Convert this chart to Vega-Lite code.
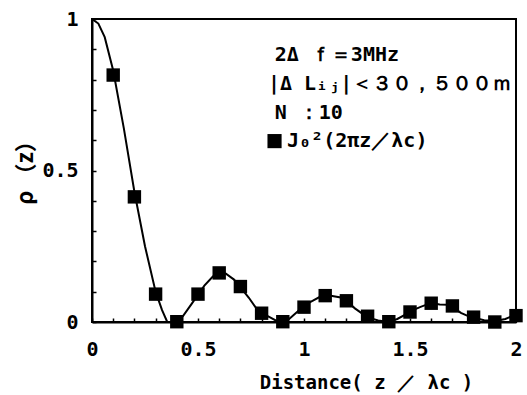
{
  "$schema": "https://vega.github.io/schema/vega-lite/v6.json",
  "width": 424,
  "height": 303,
  "autosize": "none",
  "padding": {"left": 92, "top": 19, "right": 11, "bottom": 73},
  "background": "white",
  "config": {
    "view": {"stroke": "black", "strokeWidth": 2},
    "font": "DejaVu Sans Mono",
    "axis": {"grid": false, "domainColor": "black", "domainWidth": 2, "tickColor": "black", "tickWidth": 1.5, "labelColor": "black", "titleColor": "black", "labelFont": "DejaVu Sans Mono", "titleFont": "DejaVu Sans Mono", "labelFontSize": 20, "labelFontWeight": "bold", "titleFontSize": 19, "titleFontWeight": "bold"}
  },
  "resolve": {"axis": {"x": "independent", "y": "independent"}},
  "datasets": {
    "curve": [
      {"z": 0.0, "rho": 1.0}, {"z": 0.03, "rho": 0.985}, {"z": 0.06, "rho": 0.94}, {"z": 0.1, "rho": 0.83},
      {"z": 0.15, "rho": 0.64}, {"z": 0.2, "rho": 0.43}, {"z": 0.25, "rho": 0.25}, {"z": 0.3, "rho": 0.1},
      {"z": 0.33, "rho": 0.04}, {"z": 0.355, "rho": 0.0}, {"z": 0.4, "rho": 0.0}, {"z": 0.43, "rho": 0.02},
      {"z": 0.47, "rho": 0.06}, {"z": 0.5, "rho": 0.09}, {"z": 0.53, "rho": 0.12}, {"z": 0.57, "rho": 0.15},
      {"z": 0.6, "rho": 0.165}, {"z": 0.63, "rho": 0.16}, {"z": 0.67, "rho": 0.14}, {"z": 0.7, "rho": 0.115},
      {"z": 0.74, "rho": 0.08}, {"z": 0.77, "rho": 0.05}, {"z": 0.8, "rho": 0.03}, {"z": 0.84, "rho": 0.015},
      {"z": 0.88, "rho": 0.0}, {"z": 0.9, "rho": -0.003}, {"z": 0.93, "rho": 0.01}, {"z": 0.97, "rho": 0.035},
      {"z": 1.0, "rho": 0.055}, {"z": 1.04, "rho": 0.07}, {"z": 1.08, "rho": 0.085}, {"z": 1.1, "rho": 0.09},
      {"z": 1.14, "rho": 0.085}, {"z": 1.18, "rho": 0.08}, {"z": 1.2, "rho": 0.07}, {"z": 1.24, "rho": 0.045},
      {"z": 1.28, "rho": 0.025}, {"z": 1.3, "rho": 0.015}, {"z": 1.35, "rho": 0.005}, {"z": 1.4, "rho": 0.0},
      {"z": 1.44, "rho": 0.01}, {"z": 1.48, "rho": 0.025}, {"z": 1.5, "rho": 0.035}, {"z": 1.55, "rho": 0.05},
      {"z": 1.6, "rho": 0.063}, {"z": 1.64, "rho": 0.058}, {"z": 1.68, "rho": 0.057}, {"z": 1.7, "rho": 0.05},
      {"z": 1.74, "rho": 0.03}, {"z": 1.78, "rho": 0.018}, {"z": 1.8, "rho": 0.014}, {"z": 1.85, "rho": 0.006},
      {"z": 1.9, "rho": 0.003}, {"z": 1.95, "rho": 0.01}, {"z": 2.0, "rho": 0.025}
    ],
    "markers": [
      {"z": 0.1, "rho": 0.815}, {"z": 0.2, "rho": 0.413}, {"z": 0.3, "rho": 0.092}, {"z": 0.4, "rho": 0.001},
      {"z": 0.5, "rho": 0.092}, {"z": 0.6, "rho": 0.162}, {"z": 0.7, "rho": 0.117}, {"z": 0.8, "rho": 0.029},
      {"z": 0.9, "rho": 0.001}, {"z": 1.0, "rho": 0.049}, {"z": 1.1, "rho": 0.087}, {"z": 1.2, "rho": 0.07},
      {"z": 1.3, "rho": 0.019}, {"z": 1.4, "rho": 0.001}, {"z": 1.5, "rho": 0.033}, {"z": 1.6, "rho": 0.062},
      {"z": 1.7, "rho": 0.053}, {"z": 1.8, "rho": 0.016}, {"z": 1.9, "rho": 0.0}, {"z": 2.0, "rho": 0.021}
    ],
    "notes": [
      {"z": 0.862, "rho": 0.881, "label": "2Δ ｆ＝3MHz"},
      {"z": 0.83, "rho": 0.787, "label": "|Δ Lᵢⱼ|＜３０，５００ｍ"},
      {"z": 0.862, "rho": 0.691, "label": "N ：10"},
      {"z": 0.92, "rho": 0.597, "label": "J₀²(2πz／λc)"}
    ],
    "key": [{"z": 0.861, "rho": 0.597}]
  },
  "layer": [
    {
      "data": {"name": "curve"},
      "mark": {"type": "line", "color": "black", "strokeWidth": 2, "clip": true},
      "encoding": {
        "x": {"field": "z", "type": "quantitative", "scale": {"domain": [0, 2], "nice": false},
          "axis": {"orient": "bottom", "values": [0, 0.5, 1, 1.5, 2], "format": "~g",
            "labelOverlap": false, "labelBound": false, "labelFlush": false,
            "tickSize": -4, "labelPadding": 21,
            "title": "Distance( z ／ λc )", "titleX": 274, "titleY": 60, "titleAnchor": "middle", "titleBaseline": "middle"}},
        "y": {"field": "rho", "type": "quantitative", "scale": {"domain": [0, 1], "nice": false},
          "axis": {"orient": "left", "values": [0, 0.5, 1], "format": "~g",
            "labelOverlap": false, "labelBound": false, "labelFlush": false,
            "tickSize": -4, "labelPadding": 18,
            "title": "ρ （z）", "titleFont": "Noto Sans CJK JP", "titleFontSize": 22, "titleX": -67, "titleY": 148, "titleAnchor": "middle", "titleBaseline": "middle", "titleAngle": -90}}
      }
    },
    {
      "data": {"name": "markers"},
      "mark": {"type": "point", "shape": "square", "filled": true, "color": "black", "size": 180, "opacity": 1},
      "encoding": {
        "x": {"field": "z", "type": "quantitative",
          "axis": {"orient": "bottom", "values": [0.1, 0.2, 0.3, 0.4, 0.6, 0.7, 0.8, 0.9, 1.1, 1.2, 1.3, 1.4, 1.6, 1.7, 1.8, 1.9],
            "labels": false, "domain": false, "tickSize": -4, "title": null}},
        "y": {"field": "rho", "type": "quantitative",
          "axis": {"orient": "left", "values": [0.1, 0.2, 0.3, 0.4, 0.6, 0.7, 0.8, 0.9],
            "labels": false, "domain": false, "tickSize": -4, "title": null}}
      }
    },
    {
      "data": {"name": "notes"},
      "mark": {"type": "text", "align": "left", "baseline": "middle", "fontSize": 20, "fontWeight": "bold", "color": "black", "font": "DejaVu Sans Mono"},
      "encoding": {
        "x": {"field": "z", "type": "quantitative", "axis": null},
        "y": {"field": "rho", "type": "quantitative", "axis": null},
        "text": {"field": "label"}
      }
    },
    {
      "data": {"name": "key"},
      "mark": {"type": "point", "shape": "square", "filled": true, "color": "black", "size": 200, "opacity": 1},
      "encoding": {
        "x": {"field": "z", "type": "quantitative", "axis": null},
        "y": {"field": "rho", "type": "quantitative", "axis": null}
      }
    }
  ]
}
